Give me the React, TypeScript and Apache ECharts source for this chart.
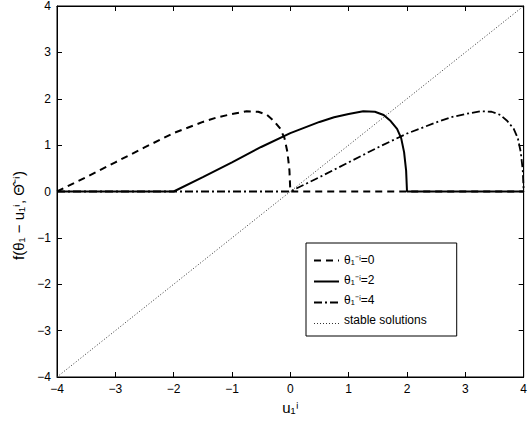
import { useEffect, useRef } from "react";
import * as echarts from "echarts";

const tickValues = [-4, -3, -2, -1, 0, 1, 2, 3, 4];

const seriesNames = ["θ₁⁻ⁱ=0", "θ₁⁻ⁱ=2", "θ₁⁻ⁱ=4", "stable solutions"];

const theta0: [number, number][] = [
  [-4, 0], [-3.5, 0.31], [-3.0, 0.63], [-2.5, 0.95], [-2, 1.26], [-1.5, 1.5],
  [-1.25, 1.6], [-1.0, 1.67], [-0.75, 1.73], [-0.55, 1.72], [-0.4, 1.65],
  [-0.28, 1.52], [-0.17, 1.35], [-0.1, 1.15], [-0.05, 0.85], [-0.015, 0.45],
  [0, 0], [4, 0],
];

const theta2: [number, number][] = [
  [-4, 0], [-2, 0], [-1.5, 0.31], [-1.0, 0.63], [-0.5, 0.96], [0, 1.26],
  [0.5, 1.5], [0.75, 1.6], [1.0, 1.67], [1.25, 1.73], [1.45, 1.72], [1.6, 1.65],
  [1.72, 1.52], [1.83, 1.35], [1.9, 1.15], [1.95, 0.85], [1.985, 0.45],
  [2, 0], [4, 0],
];

const theta4: [number, number][] = [
  [-4, 0], [0, 0], [0.5, 0.31], [1.0, 0.63], [1.5, 0.95], [2.0, 1.25],
  [2.5, 1.49], [2.75, 1.6], [3.0, 1.67], [3.25, 1.73], [3.45, 1.72], [3.6, 1.65],
  [3.72, 1.52], [3.83, 1.35], [3.9, 1.15], [3.95, 0.85], [3.985, 0.45],
  [4, 0],
];

const stable: [number, number][] = [[-4, -4], [4, 4]];

const lineDashes: (number[] | null)[] = [[7, 5], null, [8, 3, 2, 3], [1, 2]];
const lineWidths = [2, 2, 1.8, 1];
const lineColors = ["#000", "#000", "#000", "#333"];

const fmt = (v: number) => String(v).replace("-", "−");

export default function App() {
  const ref = useRef<HTMLDivElement>(null);
  useEffect(() => {
    const chart = echarts.init(ref.current!, null, { renderer: "svg" });
    const font = "Liberation Sans, Arial, sans-serif";
    const legendLeft = 306;
    const legendTop = 243;
    const padTop = 10;
    const padLeft = 8;
    const itemH = 14;
    const itemGap = 7;
    const itemW = 25;
    const axisCommon = {
      type: "value",
      min: tickValues[0],
      max: tickValues[tickValues.length - 1],
      interval: 1,
      splitLine: { show: false },
      axisLine: { show: true, onZero: false, lineStyle: { color: "#000", width: 1 } },
      axisTick: { show: true, inside: true, length: 5, lineStyle: { color: "#000" } },
    };
    const seriesData = [theta0, theta2, theta4, stable];
    chart.setOption({
      animation: false,
      backgroundColor: "#fff",
      textStyle: { fontFamily: font, color: "#000" },
      grid: {
        left: 57, right: 4, top: 5, bottom: 51,
        show: true, borderColor: "#000", borderWidth: 1, backgroundColor: "#fff",
      },
      legend: {
        orient: "vertical",
        left: legendLeft,
        top: legendTop,
        padding: [padTop, 30, 10, padLeft],
        itemWidth: itemW,
        itemHeight: itemH,
        itemGap: itemGap,
        itemTextGap: 11,
        backgroundColor: "#fff",
        borderColor: "#000",
        borderWidth: 1,
        textStyle: { fontFamily: font, fontSize: 12, color: "#000" },
        data: seriesNames.map((n) => ({ name: n, icon: "none" })),
      },
      graphic: seriesNames.map((_, i) => {
        const y = legendTop + padTop + i * (itemH + itemGap) + itemH / 2 + 0.5;
        const style: any = { stroke: lineColors[i], lineWidth: lineWidths[i] };
        if (lineDashes[i]) style.lineDash = lineDashes[i];
        return {
          type: "line",
          z: 100,
          silent: true,
          shape: { x1: legendLeft + padLeft, y1: y, x2: legendLeft + padLeft + itemW, y2: y },
          style,
        };
      }),
      xAxis: [
        {
          ...axisCommon,
          position: "bottom",
          name: "u₁ⁱ",
          nameLocation: "middle",
          nameGap: 23,
          nameTextStyle: { fontFamily: font, fontSize: 15, color: "#000" },
          axisLabel: { formatter: fmt, color: "#000", fontSize: 12, margin: 6, fontFamily: font },
        },
        { ...axisCommon, position: "top", axisLabel: { show: false } },
      ],
      yAxis: [
        {
          ...axisCommon,
          position: "left",
          name: "f(θ₁ − u₁ⁱ, Θ̂⁻ⁱ)",
          nameLocation: "middle",
          nameGap: 24,
          nameTextStyle: {
            fontFamily: font, fontSize: 15, color: "#000",
            padding: [0, 48, 0, 0],
          },
          axisLabel: { formatter: fmt, color: "#000", fontSize: 12, margin: 6, fontFamily: font },
        },
        { ...axisCommon, position: "right", axisLabel: { show: false } },
      ],
      series: seriesNames.map((name, i) => ({
        type: "line",
        name,
        data: seriesData[i],
        symbol: "none",
        smooth: false,
        itemStyle: { color: lineColors[i] },
        lineStyle: {
          color: lineColors[i],
          width: lineWidths[i],
          type: lineDashes[i] ?? "solid",
        },
      })),
    });
    return () => chart.dispose();
  }, []);
  return (
    <div
      ref={ref}
      style={{ width: 530, height: 428, position: "absolute", left: 0, top: 0 }}
    />
  );
}
